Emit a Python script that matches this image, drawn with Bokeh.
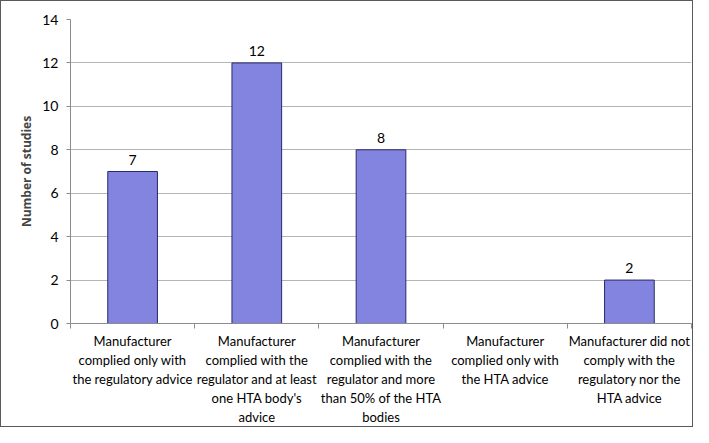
from bokeh.plotting import figure
from bokeh.models import FixedTicker, Range1d, ColumnDataSource
from bokeh.core.properties import value
from bokeh.embed import file_html
from bokeh.resources import INLINE

categories = [
    "Manufacturer\ncomplied only with\nthe regulatory advice",
    "Manufacturer\ncomplied with the\nregulator and at least\none HTA body's\nadvice",
    "Manufacturer\ncomplied with the\nregulator and more\nthan 50% of the HTA\nbodies",
    "Manufacturer\ncomplied only with\nthe HTA advice",
    "Manufacturer did not\ncomply with the\nregulatory nor the\nHTA advice",
]
counts = [7, 12, 8, 0, 2]
y_ticks = [0, 2, 4, 6, 8, 10, 12, 14]

xs = [i + 0.5 for i in range(len(categories))]
bounds = list(range(len(categories) + 1))
shown = [i for i, v in enumerate(counts) if v > 0]
src = ColumnDataSource(dict(x=xs, top=counts))
lab_src = ColumnDataSource(dict(x=[xs[i] for i in shown], y=[counts[i] for i in shown],
                                t=[str(counts[i]) for i in shown]))

FONT = "Lato"
p = figure(width=693, height=427, output_backend="svg", toolbar_location=None,
           x_range=Range1d(0, len(categories)), y_range=Range1d(0, 14),
           min_border_left=69, min_border_right=3, min_border_top=18, min_border_bottom=80)
p.styles = {"border": "1.5px solid #5a5a5a", "box-sizing": "border-box"}
p.outline_line_color = None
p.background_fill_color = "white"

p.vbar(x="x", top="top", width=0.4, source=src, fill_color="#8383E0",
       line_color="#2a2a6a", line_width=1)
p.text(x="x", y="y", text="t", source=lab_src, text_align="center",
       text_baseline="bottom", y_offset=-7, text_font=value(FONT),
       text_font_size="14px", text_color="#000000")

# x axis
p.xaxis.ticker = FixedTicker(ticks=xs, minor_ticks=bounds)
p.xaxis.major_label_overrides = {x: c for x, c in zip(xs, categories)}
p.xaxis.major_tick_out = 0
p.xaxis.major_tick_in = 0
p.xaxis.minor_tick_out = 5
p.xaxis.minor_tick_in = 0
p.xaxis.minor_tick_line_color = "#8c8c8c"
p.xaxis.axis_line_color = "#8c8c8c"
p.xaxis.major_label_text_font = FONT
p.xaxis.major_label_text_font_size = "13px"
p.xaxis.major_label_text_color = "#000000"
p.xaxis.major_label_standoff = 4
p.xgrid.grid_line_color = None

# y axis
p.yaxis.ticker = FixedTicker(ticks=y_ticks)
p.yaxis.major_tick_out = 4
p.yaxis.major_tick_in = 0
p.yaxis.minor_tick_line_color = None
p.yaxis.axis_line_color = "#8c8c8c"
p.yaxis.major_tick_line_color = "#8c8c8c"
p.yaxis.major_label_text_font = FONT
p.yaxis.major_label_text_font_size = "14px"
p.yaxis.major_label_text_color = "#000000"
p.yaxis.major_label_standoff = 8
p.yaxis.axis_label = "Number of studies"
p.yaxis.axis_label_text_font = "Open Sans"
p.yaxis.axis_label_text_font_style = "bold"
p.yaxis.axis_label_text_font_size = "12px"
p.yaxis.axis_label_standoff = 4
p.ygrid.grid_line_color = "#b5b5b5"
p.ygrid.grid_line_width = 1

open("out.html", "w").write(file_html(p, INLINE))
